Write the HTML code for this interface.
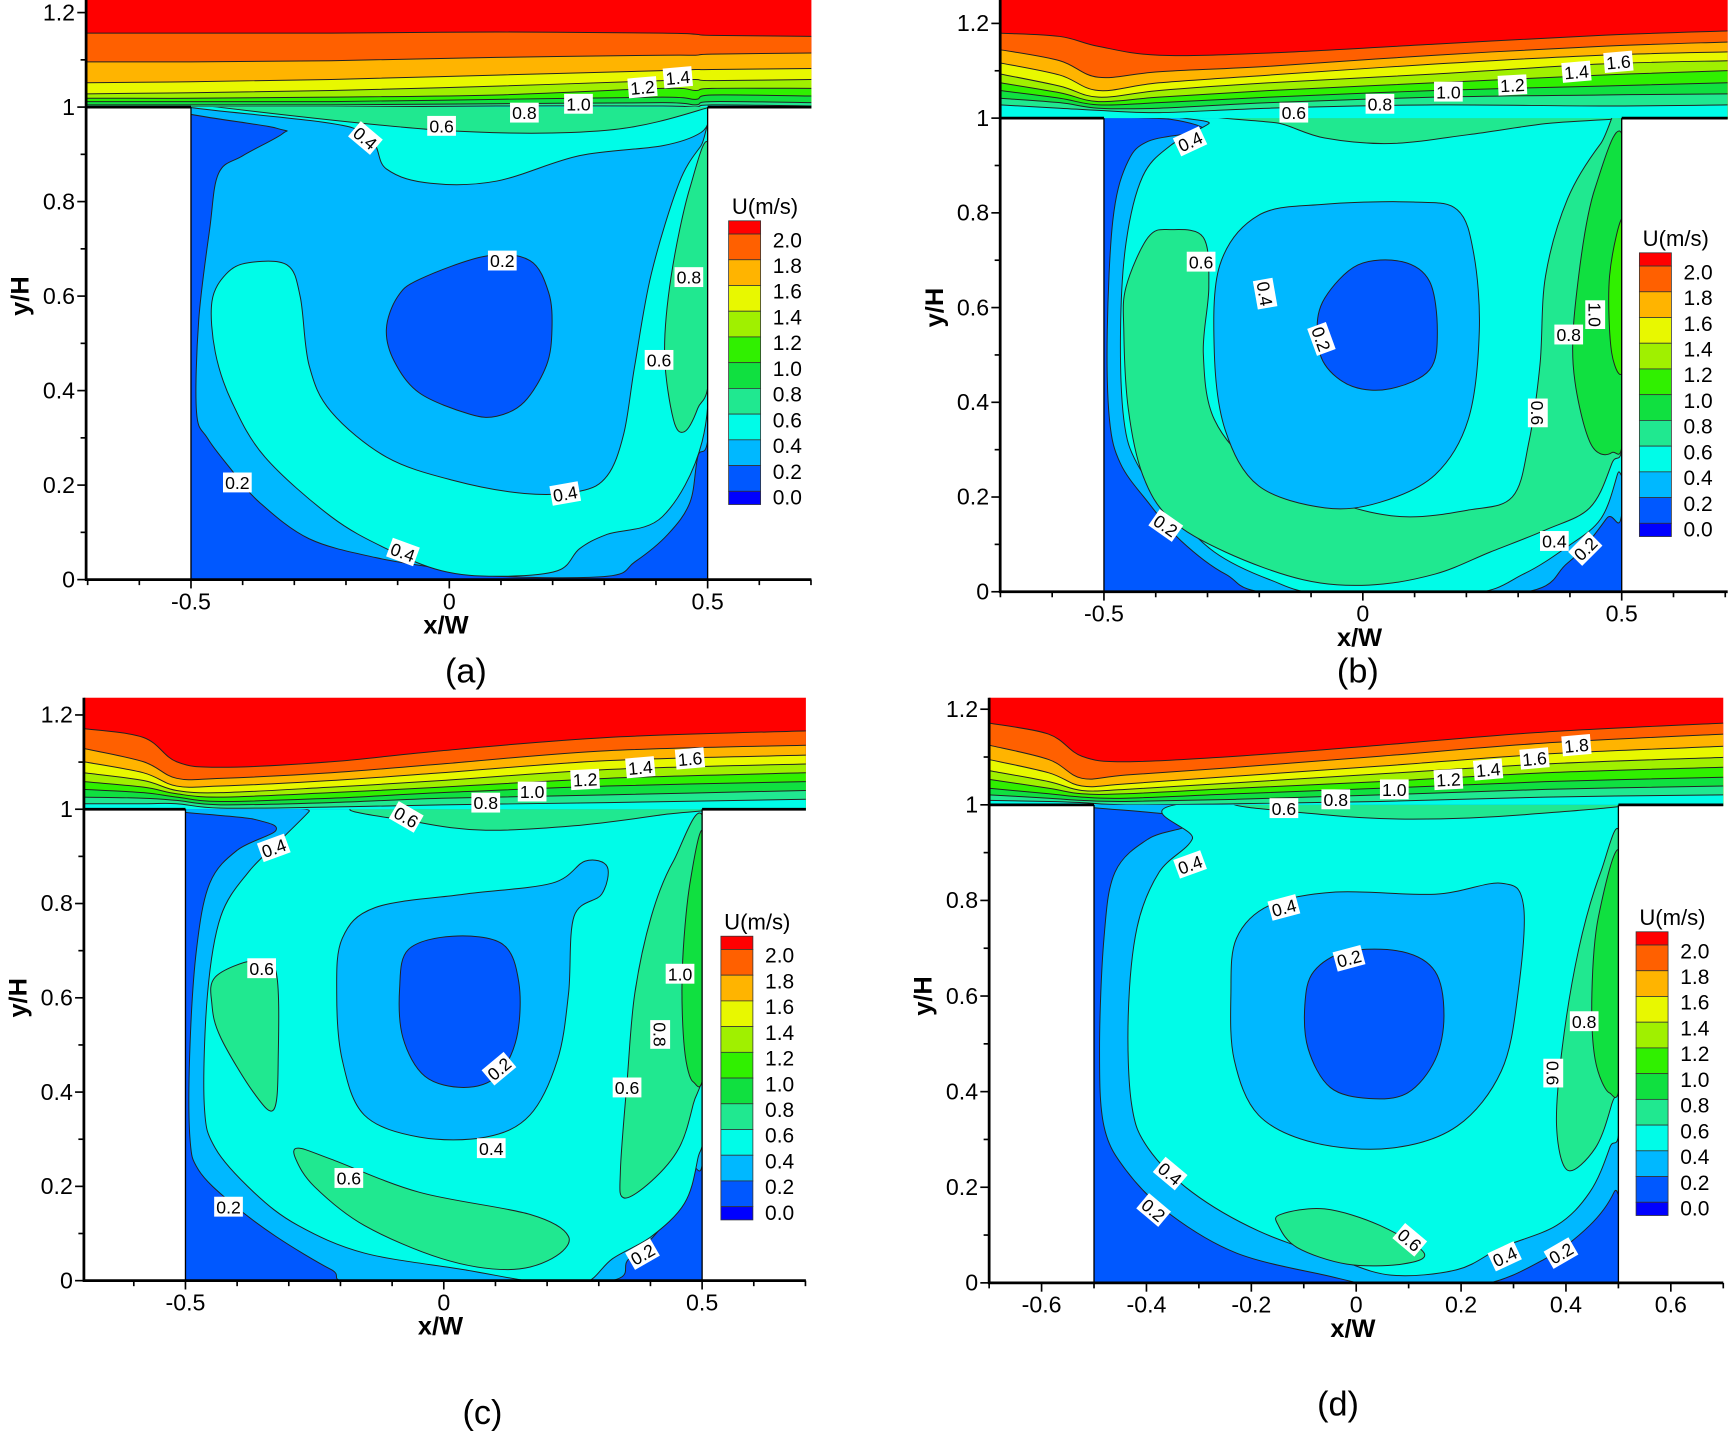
<!DOCTYPE html>
<html><head><meta charset="utf-8">
<style>
html,body{margin:0;padding:0;background:#fff;}
svg{display:block;}
text{font-family:"Liberation Sans",Arial,sans-serif;}
</style></head>
<body>
<svg id="s" width="1731" height="1433" viewBox="0 0 1568 1298" preserveAspectRatio="none" xmlns="http://www.w3.org/2000/svg"></svg>
<script>
const C={r:'#ff0000',o2:'#ff6000',o1:'#ffb400',y:'#e8f800',yg:'#a0f000',g1:'#30f000',g2:'#10e040',sg:'#20e890',cy:'#00fce8',lb:'#00b8ff',b:'#0058ff',db:'#0000ff'};
let out='';
function cr(pts,closed){
  const n=pts.length;let d='M'+pts[0][0]+','+pts[0][1];
  const g=i=>closed?pts[(i+n)%n]:pts[Math.max(0,Math.min(n-1,i))];
  const m=closed?n:n-1;
  for(let i=0;i<m;i++){
    const p0=g(i-1),p1=g(i),p2=g(i+1),p3=g(i+2);
    const c1=[p1[0]+(p2[0]-p0[0])/6,p1[1]+(p2[1]-p0[1])/6];
    const c2=[p2[0]-(p3[0]-p1[0])/6,p2[1]-(p3[1]-p1[1])/6];
    d+=`C${c1[0].toFixed(1)},${c1[1].toFixed(1)} ${c2[0].toFixed(1)},${c2[1].toFixed(1)} ${p2[0]},${p2[1]}`;
  }
  return d+(closed?'Z':'');
}
function blob(pts,fill,clip){out+=`<path d="${cr(pts,true)}" fill="${fill}" stroke="#222" stroke-width="0.9" ${clip?`clip-path="url(#${clip})"`:''}/>`;}
function label(x,y,t,rot){out+=`<g transform="translate(${x},${y}) rotate(${rot||0})"><rect x="-13" y="-9" width="26" height="18" fill="#fff"/><text x="0" y="6" font-size="16" text-anchor="middle">${t}</text></g>`;}
function panel(p){
  const id='cl'+p.name;
  out+=`<clipPath id="${id}"><rect x="${p.cL}" y="${p.wall}" width="${p.cR-p.cL}" height="${p.bot-p.wall}"/></clipPath>`;
  out+=`<clipPath id="${id}t"><rect x="${p.L}" y="${p.T}" width="${p.R-p.L}" height="${p.wall-p.T+1}"/></clipPath>`;
  // top region
  out+=`<rect x="${p.L}" y="${p.T}" width="${p.R-p.L}" height="${p.wall-p.T}" fill="${C.r}"/>`;
  const cols=[C.o2,C.o1,C.y,C.yg,C.g1,C.g2,C.sg,C.cy];
  p.bands.forEach((ys,i)=>{
    const pts=p.bx.map((x,j)=>[x,ys[j]]);
    let d=cr(pts,false)+`L${p.R},${p.wall+1}L${p.L},${p.wall+1}Z`;
    out+=`<path d="${d}" fill="${cols[i]}" clip-path="url(#${id}t)"/>`;
    out+=`<path d="${cr(pts,false)}" fill="none" stroke="#222" stroke-width="0.9" clip-path="url(#${id}t)"/>`;
  });
  // cavity
  out+=`<rect x="${p.cL}" y="${p.wall}" width="${p.cR-p.cL}" height="${p.bot-p.wall}" fill="${C.b}"/>`;
  p.shapes.forEach(s=>blob(s[1],C[s[0]],id));
  out+=`<line x1="${p.cL}" y1="${p.wall}" x2="${p.cL}" y2="${p.bot}" stroke="#000" stroke-width="1.2"/>`;
  out+=`<line x1="${p.cR}" y1="${p.wall}" x2="${p.cR}" y2="${p.bot}" stroke="#000" stroke-width="1.2"/>`;
  out+=`<line x1="${p.L}" y1="${p.wall}" x2="${p.cL}" y2="${p.wall}" stroke="#000" stroke-width="2.5"/>`;
  out+=`<line x1="${p.cR}" y1="${p.wall}" x2="${p.R}" y2="${p.wall}" stroke="#000" stroke-width="2.5"/>`;
  // axes
  out+=`<line x1="${p.L}" y1="${p.T}" x2="${p.L}" y2="${p.bot+1}" stroke="#000" stroke-width="2.5"/>`;
  out+=`<line x1="${p.L-1}" y1="${p.bot}" x2="${p.R}" y2="${p.bot}" stroke="#000" stroke-width="2.5"/>`;
  for(let k=0;k<=12;k++){
    const y=p.Y0-k/10*p.SY; if(y<p.T-1)continue;
    const maj=k%2==0;
    out+=`<line x1="${p.L-(maj?8:5)}" y1="${y}" x2="${p.L}" y2="${y}" stroke="#000" stroke-width="1.5"/>`;
    if(maj){const t=k==0?'0':k==10?'1':(k/10).toFixed(1);
      out+=`<text x="${p.L-10}" y="${y+7}" font-size="21" text-anchor="end">${t}</text>`;}
  }
  for(let k=-7;k<=7;k++){
    const x=p.X0+k/10*p.SX; if(x<p.L-1||x>p.R+1)continue;
    const maj=p.d?(k%2==0):(k%5==0);
    out+=`<line x1="${x}" y1="${p.bot}" x2="${x}" y2="${p.bot+(maj?8:5)}" stroke="#000" stroke-width="1.5"/>`;
    if(maj){const t=k==0?'0':(k/10).toFixed(1);
      out+=`<text x="${x}" y="${p.bot+27}" font-size="21" text-anchor="middle">${t}</text>`;}
  }
  out+=`<text x="${p.X0-3}" y="${p.bot+49}" font-size="23" font-weight="bold" text-anchor="middle">x/W</text>`;
  const ym=(p.Y0-0.6*p.SY);
  out+=`<text transform="translate(${p.L-52},${ym}) rotate(-90)" font-size="23" font-weight="bold" text-anchor="middle">y/H</text>`;
  // legend
  const lc=[C.o2,C.o1,C.y,C.yg,C.g1,C.g2,C.sg,C.cy,C.lb,C.b];
  let y0=p.lg[1];const lx=p.lg[0];
  out+=`<text x="${lx+3}" y="${y0-6}" font-size="20">U(m/s)</text>`;
  out+=`<rect x="${lx}" y="${y0}" width="29" height="12" fill="${C.r}" stroke="#333" stroke-width="0.7"/>`;
  const bh=23.3;
  lc.forEach((c,i)=>{out+=`<rect x="${lx}" y="${y0+12+i*bh}" width="29" height="${bh}" fill="${c}" stroke="#333" stroke-width="0.7"/>`;});
  out+=`<rect x="${lx}" y="${y0+12+10*bh}" width="29" height="12" fill="${C.db}" stroke="#333" stroke-width="0.7"/>`;
  for(let i=0;i<=10;i++){out+=`<text x="${lx+40}" y="${y0+12+i*bh+12}" font-size="19">${((10-i)/5).toFixed(1)}</text>`;}
  p.labels.forEach(l=>label(l[0],l[1],l[2],l[3]));
  out+=`<text x="${p.cap[0]}" y="${p.cap[1]}" font-size="31" text-anchor="middle">${p.cap[2]}</text>`;
}
// Panel a
panel({name:'a',L:78,R:735,T:0,wall:97,cL:173,cR:641,bot:525,X0:407,SX:468,Y0:525,SY:428,lg:[660,200],cap:[422,618,'(a)'],
 bx:[78,173,300,450,600,630,645,735],
 bands:[[30,30,30,29,30,31,32,33],[56,56,55,52,50,50,49,48],[75,74,72,68,64,63,63,62],[85,84,82,78,73,72,73,72],[89,89,88,86,80,82,80,80],[92,92,92,90,88,90,86,87],[95,95,95,94,93,95,92,93],[97,97,97,96,96,97,95,96]],
 shapes:[
  ['lb',[[173,95],[250,116],[256,121],[220,141],[198,157],[190,207],[180,290],[178,373],[188,397],[210,426],[235,455],[280,488],[340,505],[400,515],[450,522],[550,522],[575,509],[605,484],[625,455],[632,414],[643,373],[643,95]]],
  ['cy',[[173,93],[320,116],[350,153],[390,166],[450,164],[525,141],[600,132],[635,120],[643,104],[643,93]]],
  ['sg',[[180,95],[400,118],[550,118],[643,97],[643,93],[180,93]]],
  ['cy',[[205,248],[225,238],[260,240],[272,269],[280,331],[300,373],[350,414],[410,435],[475,447],[525,445],[550,431],[565,393],[575,331],[590,248],[615,166],[635,132],[643,124],[643,300],[636,400],[600,468],[550,484],[525,497],[505,517],[450,522],[400,517],[350,497],[300,468],[240,414],[210,364],[195,319],[192,273]]],
  ['sg',[[643,137],[625,170],[608,250],[602,320],[610,380],[620,391],[632,370],[643,330]]],
  ['b',[[380,253],[440,232],[480,236],[497,265],[500,298],[495,331],[475,364],[450,377],[425,375],[380,356],[357,327],[350,298],[360,269]]]
 ],
 labels:[[614,70,'1.4',-5],[582,79,'1.2',-5],[524,94,'1.0',0],[475,102,'0.8',0],[400,114,'0.6',0],[331,125,'0.4',40],[455,236,'0.2',0],[624,251,'0.8',0],[597,326,'0.6',0],[215,437,'0.2',0],[512,447,'0.4',-10],[365,500,'0.4',20]]
});
// Panel b
panel({name:'b',L:906,R:1565,T:0,wall:107,cL:1000,cR:1469,bot:536,X0:1234.5,SX:469,Y0:536,SY:429,lg:[1485,229],cap:[1230,618,'(b)'],
 bx:[906,960,995,1050,1150,1300,1450,1565],
 bands:[[30,33,42,50,48,40,32,28],[45,55,70,65,60,50,42,38],[57,68,82,75,68,58,50,47],[67,78,88,82,75,67,58,55],[75,84,92,88,82,75,68,64],[82,89,95,93,88,82,78,75],[89,93,98,98,93,88,86,85],[95,98,100,102,98,95,96,95]],
 shapes:[
  ['lb',[[1000,105],[1060,108],[1090,118],[1040,128],[1020,150],[1008,200],[1003,300],[1005,380],[1015,420],[1040,455],[1070,490],[1110,520],[1160,538],[1370,538],[1420,510],[1455,470],[1471,440],[1471,105]]],
  ['cy',[[1095,105],[1095,112],[1060,132],[1035,160],[1020,220],[1015,300],[1018,380],[1030,420],[1060,460],[1100,500],[1150,525],[1200,538],[1330,538],[1380,520],[1420,495],[1450,470],[1465,430],[1471,400],[1471,105]]],
  ['sg',[[1120,105],[1160,112],[1200,125],[1260,130],[1330,122],[1400,112],[1471,105]]],
  ['sg',[[1020,260],[1040,215],[1060,208],[1090,215],[1095,260],[1090,320],[1100,380],[1140,425],[1210,455],[1270,468],[1330,462],[1370,450],[1385,400],[1395,330],[1400,250],[1420,180],[1450,130],[1471,112],[1471,380],[1460,420],[1440,460],[1400,480],[1350,500],[1300,520],[1240,530],[1180,525],[1110,500],[1060,470],[1035,430],[1022,370],[1018,300]]],
  ['lb',[[1140,195],[1200,185],[1280,183],[1320,190],[1335,230],[1340,300],[1330,380],[1300,430],[1250,455],[1200,460],[1140,440],[1110,390],[1100,320],[1105,240]]],
  ['g2',[[1471,130],[1445,170],[1430,250],[1425,330],[1440,400],[1460,410],[1471,380]]],
  ['g1',[[1471,200],[1458,250],[1460,320],[1471,330]]],
  ['b',[[1200,270],[1230,240],[1270,237],[1295,255],[1302,300],[1295,335],[1260,352],[1225,350],[1200,330],[1193,300]]]
 ],
 labels:[[1466,56,'1.6',-5],[1428,65,'1.4',-5],[1370,77,'1.2',-3],[1312,83,'1.0',0],[1250,94,'0.8',0],[1172,102,'0.6',0],[1078,128,'0.4',-25],[1088,237,'0.6',0],[1146,266,'0.4',80],[1197,307,'0.2',70],[1445,285,'1.0',90],[1421,303,'0.8',0],[1393,374,'0.6',90],[1056,476,'0.2',35],[1408,490,'0.4',0],[1436,497,'0.2',-45]]
});
// Panel c
panel({name:'c',L:76,R:730,T:632,wall:733,cL:168,cR:636,bot:1160,X0:402,SX:468,Y0:1160,SY:427,lg:[653,848],cap:[437,1290,'(c)'],
 bx:[76,130,160,200,300,400,550,730],
 bands:[[660,668,690,695,690,680,668,662],[678,690,705,705,700,692,680,675],[690,700,712,712,707,700,689,684],[700,707,716,718,713,707,697,692],[708,713,719,722,718,713,705,700],[715,718,722,726,723,718,712,708],[722,723,725,729,727,723,720,716],[728,728,728,732,731,729,727,724]],
 shapes:[
  ['lb',[[166,731],[230,742],[250,752],[215,770],[190,800],[178,860],[172,950],[172,1030],[180,1060],[210,1090],[250,1120],[300,1150],[330,1162],[540,1162],[570,1140],[600,1110],[625,1060],[638,1030],[638,731]]],
  ['cy',[[280,731],[280,735],[255,760],[225,790],[200,830],[188,900],[185,1000],[195,1040],[230,1080],[270,1110],[330,1135],[420,1150],[490,1162],[530,1162],[555,1140],[590,1120],[620,1090],[632,1050],[638,1000],[638,731]]],
  ['sg',[[330,731],[380,745],[440,752],[520,748],[600,738],[638,731]]],
  ['lb',[[310,850],[340,822],[420,810],[500,800],[530,780],[550,785],[545,810],[520,830],[515,900],[505,960],[480,1010],[440,1030],[380,1030],[330,1010],[310,960],[305,900]]],
  ['b',[[370,860],[410,848],[455,855],[470,890],[468,940],[450,975],[420,985],[385,975],[365,940],[362,895]]],
  ['sg',[[195,885],[230,870],[250,880],[252,960],[248,1005],[230,990],[200,940],[192,910]]],
  ['sg',[[270,1040],[300,1050],[380,1080],[480,1100],[515,1120],[500,1140],[460,1150],[400,1140],[330,1110],[285,1075],[268,1050]]],
  ['sg',[[638,745],[610,780],[590,830],[575,900],[568,980],[562,1060],[565,1085],[590,1070],[615,1040],[628,1000],[638,950]]],
  ['g2',[[638,760],[625,800],[618,880],[620,950],[628,980],[638,960]]]
 ],
 labels:[[625,687,'1.6',-5],[580,695,'1.4',-5],[530,706,'1.2',-3],[482,717,'1.0',0],[440,727,'0.8',0],[368,740,'0.6',30],[248,768,'0.4',-20],[237,877,'0.6',0],[616,882,'1.0',0],[598,937,'0.8',90],[452,968,'0.2',-40],[568,985,'0.6',0],[445,1040,'0.4',0],[316,1067,'0.6',0],[207,1093,'0.2',0],[582,1136,'0.2',-30]]
});
// Panel d
panel({name:'d',d:true,L:896,R:1561,T:632,wall:729,cL:991,cR:1466,bot:1162,X0:1228.5,SX:475,Y0:1162,SY:433,lg:[1482,844],cap:[1212,1282,'(d)'],
 bx:[896,950,980,1020,1120,1250,1400,1561],
 bands:[[655,665,685,690,685,675,663,655],[675,688,705,702,695,685,673,665],[688,700,712,710,703,694,683,676],[698,708,716,715,709,701,692,686],[706,714,719,719,714,708,700,695],[714,719,722,723,719,714,708,704],[720,723,725,726,724,720,715,712],[725,726,727,729,728,726,722,720]],
 shapes:[
  ['lb',[[989,727],[1060,738],[1075,748],[1040,760],[1010,790],[1000,850],[996,950],[1000,1020],[1020,1060],[1060,1100],[1120,1135],[1200,1155],[1250,1164],[1340,1164],[1400,1140],[1440,1110],[1462,1080],[1468,1050],[1468,727]]],
  ['cy',[[1080,727],[1080,760],[1050,790],[1030,840],[1022,920],[1025,1000],[1040,1040],[1080,1080],[1140,1115],[1210,1140],[1260,1155],[1320,1150],[1360,1130],[1410,1110],[1440,1080],[1458,1040],[1468,1000],[1468,727]]],
  ['sg',[[1130,727],[1200,738],[1280,742],[1380,738],[1468,727]]],
  ['lb',[[1120,850],[1150,820],[1210,808],[1300,810],[1360,800],[1380,820],[1375,900],[1360,970],[1320,1020],[1260,1040],[1190,1035],[1140,1010],[1118,960],[1115,900]]],
  ['b',[[1190,880],[1220,862],[1270,862],[1300,880],[1308,920],[1300,960],[1275,990],[1240,995],[1205,985],[1185,950],[1182,910]]],
  ['sg',[[1468,760],[1450,790],[1430,860],[1415,950],[1410,1020],[1420,1060],[1445,1040],[1460,1000],[1468,960]]],
  ['g2',[[1468,775],[1448,830],[1442,900],[1445,960],[1458,990],[1468,970]]],
  ['sg',[[1160,1100],[1200,1095],[1250,1110],[1290,1135],[1270,1145],[1220,1145],[1175,1130],[1158,1110]]]
 ],
 labels:[[1428,675,'1.8',-5],[1390,687,'1.6',-5],[1348,697,'1.4',-5],[1312,706,'1.2',-3],[1263,715,'1.0',0],[1210,724,'0.8',0],[1163,732,'0.6',0],[1078,783,'0.4',-20],[1163,822,'0.4',-15],[1222,868,'0.2',-15],[1435,925,'0.8',0],[1407,972,'0.6',90],[1060,1063,'0.4',40],[1045,1096,'0.2',40],[1277,1123,'0.6',40],[1363,1138,'0.4',-25],[1414,1135,'0.2',-30]]
});
document.getElementById('s').innerHTML=out;
</script>
</body></html>
